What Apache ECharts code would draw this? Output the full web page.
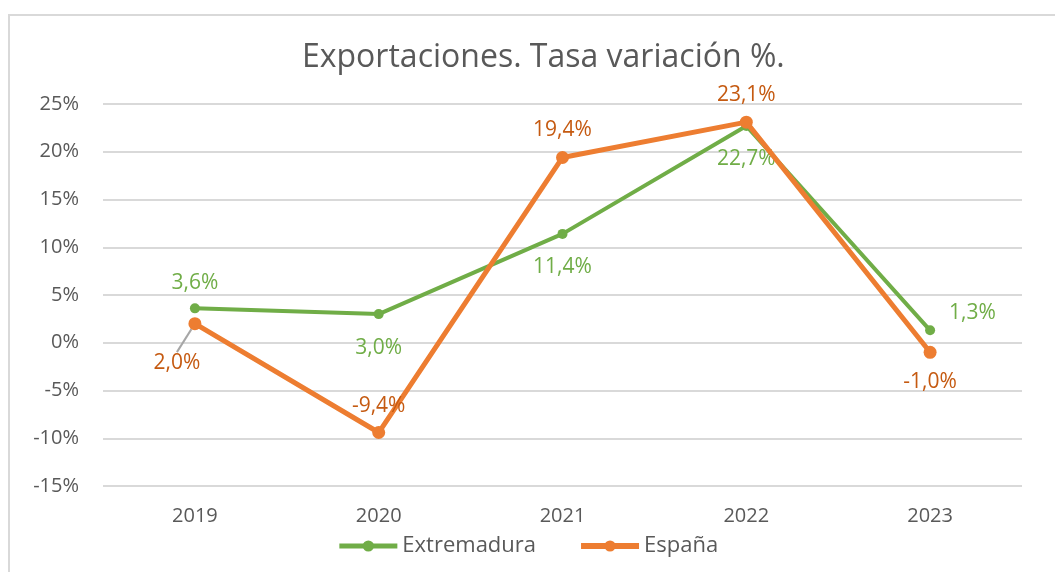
<!DOCTYPE html>
<html>
<head>
<meta charset="utf-8">
<script src="https://cdn.jsdelivr.net/npm/echarts@6/dist/echarts.min.js"></script>
<style>
	html, body { margin: 0; padding: 0; background: #fff; }
	#frame { position: absolute; left: 8px; top: 14px; width: 1060px; height: 570px; border: 2px solid #d9d9d9; box-sizing: border-box; }
	#chart { position: absolute; left: 0; top: 0; width: 1055px; height: 572px; }
</style>
</head>
<body>
<div id="frame"></div>
<div id="chart"></div>
<script>
// years on the x axis
var years = ['2019', '2020', '2021', '2022', '2023'];
// tasa de variacion, %
var extremadura = [3.6, 3.0, 11.4, 22.7, 1.3];
var espana = [2.0, -9.4, 19.4, 23.1, -1.0];
// label side for each point
var extremaduraPos = ['top', 'bottom', 'bottom', 'bottom', 'right'];
var espanaPos = ['bottom', 'top', 'top', 'top', 'bottom'];

var font = 'Open Sans';
var green = '#70ad47';
var orange = '#ed7d31';

function pct(v) {
	return v.toFixed(1).replace('.', ',') + '%';
}

function buildData(values, positions, guideAt) {
	return values.map(function(v, i) {
		return {
			value: v,
			label: { position: positions[i] },
			labelLine: { show: i === guideAt }
		};
	});
}

var chart = echarts.init(document.getElementById('chart'));

var option = {
	animation: false,
	title: {
		text: 'Exportaciones. Tasa variación %.',
		left: 297,
		top: 37,
		textStyle: {
			fontFamily: font,
			fontSize: 32,
			fontWeight: 'normal',
			color: '#595959'
		}
	},
	legend: {
		bottom: 10,
		left: 'center',
		itemWidth: 58,
		itemHeight: 14,
		itemGap: 42,
		textStyle: {
			fontFamily: font,
			fontSize: 22,
			color: '#595959'
		},
		data: [{
			name: 'Extremadura',
			lineStyle: { width: 5 }
		}, {
			name: 'España',
			lineStyle: { width: 6 }
		}]
	},
	grid: {
		left: 103,
		right: 33,
		top: 104,
		bottom: 86
	},
	xAxis: {
		type: 'category',
		data: years,
		axisLine: { show: false },
		axisTick: { show: false },
		axisLabel: {
			margin: 20,
			fontFamily: font,
			fontSize: 20,
			color: '#595959'
		}
	},
	yAxis: {
		type: 'value',
		min: -15,
		max: 25,
		interval: 5,
		axisLabel: {
			margin: 24,
			fontFamily: font,
			fontSize: 20,
			color: '#595959',
			formatter: '{value}%'
		},
		splitLine: {
			lineStyle: { color: '#d9d9d9', width: 2 }
		}
	},
	series: [{
		name: 'Extremadura',
		type: 'line',
		data: buildData(extremadura, extremaduraPos, -1),
		symbol: 'circle',
		symbolSize: 10,
		z: 2,
		lineStyle: { color: green, width: 4 },
		itemStyle: { color: green },
		label: {
			show: true,
			distance: 10,
			fontFamily: font,
			fontSize: 21,
			color: '#70ad47',
			formatter: function(p) { return pct(p.value); }
		},
		labelLayout: function(params) {
			if (params.dataIndex === 4) {
				return { dy: -17, dx: 4 };
			}
			if (params.dataIndex > 0) {
				return { dy: 8 };
			}
			return {};
		}
	}, {
		name: 'España',
		type: 'line',
		data: buildData(espana, espanaPos, 0),
		symbol: 'circle',
		symbolSize: 13,
		z: 3,
		lineStyle: { color: orange, width: 5 },
		itemStyle: { color: orange },
		label: {
			show: true,
			distance: 10,
			fontFamily: font,
			fontSize: 21,
			color: '#c55a11',
			formatter: function(p) { return pct(p.value); }
		},
		labelLine: {
			show: false,
			lineStyle: { color: '#a6a6a6', width: 2 }
		},
		labelLayout: function(params) {
			if (params.dataIndex === 0) {
				return { dx: -18, dy: 12 };
			}
			if (params.dataIndex === 4) {
				return { dy: 3 };
			}
			return {};
		}
	}]
};

chart.setOption(option);
</script>
</body>
</html>
